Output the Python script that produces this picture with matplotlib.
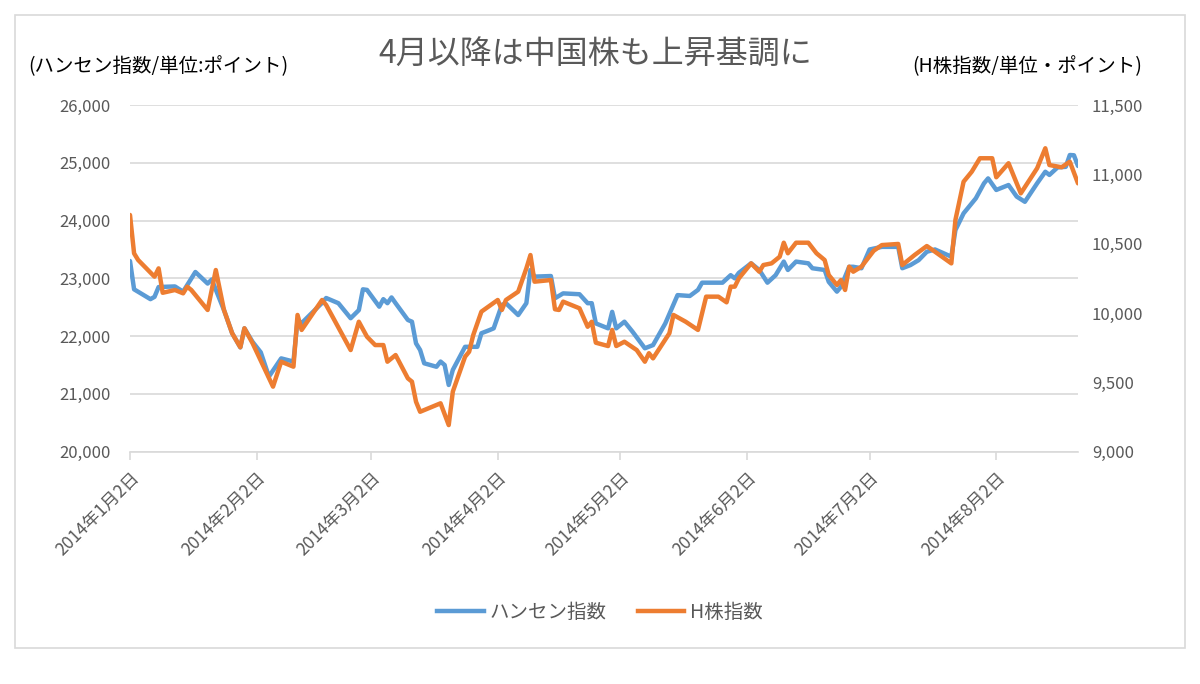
import numpy as np
import matplotlib as mpl
mpl.use('Agg')
from matplotlib import pyplot as plt
import matplotlib.ticker as ticker
from matplotlib.patches import Rectangle

plt.rcParams['font.family'] = ['Noto Sans CJK JP', 'DejaVu Sans']

#------------------- Data ---------------------------------------------
hsi_dates = ['01-02', '01-03', '01-07', '01-08', '01-09', '01-11', '01-13', '01-15', '01-18', '01-21',
             '01-22', '01-25', '01-27', '01-29', '01-30', '02-01', '02-03', '02-05', '02-08', '02-11',
             '02-12', '02-13', '02-18', '02-19', '02-22', '02-25', '02-27', '02-28', '03-01', '03-04',
             '03-05', '03-06', '03-07', '03-08', '03-11', '03-12', '03-13', '03-14', '03-15', '03-18',
             '03-19', '03-20', '03-21', '03-22', '03-25', '03-28', '03-29', '03-31', '04-01', '04-03',
             '04-04', '04-07', '04-09', '04-10', '04-11', '04-15', '04-16', '04-18', '04-22', '04-24',
             '04-25', '04-26', '04-29', '04-30', '05-01', '05-03', '05-05', '05-08', '05-10', '05-13',
             '05-16', '05-19', '05-21', '05-22', '05-27', '05-29', '05-30', '05-31', '06-03', '06-05',
             '06-07', '06-09', '06-11', '06-12', '06-14', '06-17', '06-18', '06-21', '06-22', '06-24',
             '06-25', '06-27', '06-28', '06-30', '07-02', '07-05', '07-09', '07-10', '07-12', '07-14',
             '07-16', '07-18', '07-22', '07-23', '07-25', '07-28', '07-30', '07-31', '08-02', '08-05',
             '08-07', '08-09', '08-12', '08-14', '08-15', '08-17', '08-19', '08-20', '08-21', '08-22']
hsi_values = [23300, 22810, 22640, 22680, 22850, 22855, 22860, 22770, 23110, 22910,
              22980, 22450, 22050, 21805, 22135, 21900, 21720, 21300, 21615, 21560,
              22280, 22225, 22575, 22660, 22570, 22310, 22450, 22810, 22800, 22510,
              22640, 22570, 22670, 22570, 22280, 22250, 21875, 21760, 21530, 21470,
              21560, 21500, 21155, 21415, 21815, 21815, 22050, 22105, 22135, 22540,
              22570, 22365, 22570, 23145, 23030, 23040, 22655, 22740, 22725, 22570,
              22570, 22220, 22135, 22420, 22135, 22250, 22075, 21790, 21845, 22220,
              22710, 22695, 22800, 22925, 22925, 23055, 23000, 23095, 23260, 23145,
              22925, 23055, 23290, 23145, 23290, 23260, 23175, 23145, 22940, 22770,
              22855, 23200, 23200, 23175, 23500, 23545, 23545, 23175, 23230, 23315,
              23460, 23500, 23375, 23835, 24125, 24385, 24645, 24730, 24530, 24615,
              24415, 24325, 24645, 24845, 24790, 24920, 24930, 25135, 25130, 24945]

h_dates = ['01-02', '01-03', '01-04', '01-08', '01-09', '01-10', '01-13', '01-15', '01-16', '01-17',
           '01-21', '01-23', '01-25', '01-27', '01-29', '01-30', '02-01', '02-06', '02-08', '02-11',
           '02-12', '02-13', '02-18', '02-19', '02-21', '02-25', '02-27', '03-01', '03-03', '03-05',
           '03-06', '03-08', '03-11', '03-12', '03-13', '03-14', '03-19', '03-21', '03-22', '03-25',
           '03-26', '03-27', '03-29', '04-02', '04-03', '04-04', '04-07', '04-09', '04-10', '04-11',
           '04-15', '04-16', '04-17', '04-18', '04-22', '04-24', '04-25', '04-26', '04-29', '04-30',
           '05-01', '05-03', '05-06', '05-08', '05-09', '05-10', '05-14', '05-15', '05-18', '05-21',
           '05-23', '05-26', '05-28', '05-29', '05-30', '05-31', '06-03', '06-05', '06-06', '06-08',
           '06-10', '06-11', '06-12', '06-14', '06-17', '06-19', '06-21', '06-22', '06-24', '06-25',
           '06-26', '06-27', '06-28', '06-30', '07-03', '07-05', '07-09', '07-10', '07-13', '07-16',
           '07-18', '07-22', '07-23', '07-25', '07-27', '07-29', '08-01', '08-02', '08-05', '08-08',
           '08-12', '08-14', '08-15', '08-18', '08-20', '08-22']
h_values = [10707, 10430, 10382, 10262, 10322, 10146, 10166, 10142, 10190, 10166,
            10022, 10310, 10022, 9854, 9753, 9890, 9782, 9469, 9649, 9613,
            9986, 9878, 10094, 10058, 9950, 9733, 9937, 9829, 9769, 9769,
            9649, 9697, 9529, 9505, 9360, 9288, 9349, 9192, 9433, 9685,
            9721, 9841, 10010, 10094, 10022, 10094, 10154, 10322, 10418, 10226,
            10238, 10027, 10022, 10082, 10034, 9901, 9937, 9786, 9762, 9878,
            9762, 9793, 9733, 9649, 9710, 9673, 9854, 9986, 9937, 9878,
            10118, 10118, 10077, 10190, 10190, 10250, 10358, 10298, 10346, 10358,
            10406, 10507, 10431, 10507, 10507, 10431, 10382, 10274, 10202, 10238,
            10166, 10334, 10298, 10334, 10449, 10490, 10498, 10346, 10418, 10483,
            10442, 10358, 10671, 10947, 11019, 11116, 11116, 10979, 11080, 10863,
            11044, 11188, 11067, 11051, 11091, 10935]

tick_dates = ['01-02', '02-02', '03-02', '04-02', '05-02', '06-02', '07-02', '08-02']

def to_date(lst):
    return np.array(['2014-' + s for s in lst], dtype='datetime64[D]')

hsi_x = to_date(hsi_dates)
h_x = to_date(h_dates)
xt = to_date(tick_dates)
xt_labels = ['2014年%d月%d日' % (int(s[:2]), int(s[3:])) for s in tick_dates]

#--------------------- PLOT ------------------------
W, H = 1200, 684
fig = plt.figure(figsize=(12, 6.84), dpi=100)
fig.patches.append(Rectangle((15/W, 1-648/H), 1170/W, 633/H, transform=fig.transFigure,
                             fill=False, edgecolor='#d9d9d9', lw=1.2))

ax = fig.add_axes([130/W, 1-451.7/H, (1078-130)/W, (451.7-105)/H])
ax2 = ax.twinx()

ax.plot(hsi_x, hsi_values, color='#5B9BD5', lw=3.2, solid_joinstyle='round', solid_capstyle='round')
ax2.plot(h_x, h_values, color='#ED7D31', lw=3.2, solid_joinstyle='round', solid_capstyle='round')

ax.set_xlim(np.datetime64('2014-01-02'), np.datetime64('2014-08-22'))
ax.set_ylim(20000, 26000)
ax.set_yticks(np.arange(20000, 26001, 1000))
ax.yaxis.set_major_formatter(ticker.StrMethodFormatter('{x:,.0f}'))
ax2.set_ylim(9000, 11500)
ax2.set_yticks(np.arange(9000, 11501, 500))
ax2.yaxis.set_major_formatter(ticker.StrMethodFormatter('{x:,.0f}'))

ax.grid(axis='y', color='#d9d9d9', lw=1.2)
ax.set_axisbelow(True)
for a in (ax, ax2):
    for s in ['top', 'left', 'right']:
        a.spines[s].set_visible(False)
ax2.spines['bottom'].set_visible(False)
ax.spines['bottom'].set_color('#d9d9d9')
ax.spines['bottom'].set_linewidth(1.2)

ax.set_xticks(xt)
ax.set_xticklabels(xt_labels, rotation=45, ha='right', rotation_mode='anchor', fontsize=12.5, color='#595959')
ax.tick_params(axis='x', direction='out', length=6, width=1.2, color='#d9d9d9', pad=6)
ax.tick_params(axis='y', length=0, pad=14, labelsize=12, labelcolor='#595959')
ax2.tick_params(axis='y', length=0, pad=10, labelsize=12, labelcolor='#595959')

fig.text(595/W, 1-55/H, '4月以降は中国株も上昇基調に', ha='center', va='center', fontsize=23, color='#595959')
fig.text(28/W, 1-67/H, '(ハンセン指数/単位:ポイント)', ha='left', va='center', fontsize=14, color='black')
fig.text(1142/W, 1-67/H, '(H株指数/単位・ポイント)', ha='right', va='center', fontsize=14, color='black')

h1, = ax.plot([], [], color='#5B9BD5', lw=3.2)
h2, = ax.plot([], [], color='#ED7D31', lw=3.2)
fig.legend([h1, h2], ['ハンセン指数', 'H株指数'], loc='center', bbox_to_anchor=(0.5, 1-612/H),
           ncol=2, frameon=False, fontsize=14, handlelength=2.4, columnspacing=1.6,
           handletextpad=0.3, labelcolor='#595959')

plt.savefig('out.png', dpi=100)
